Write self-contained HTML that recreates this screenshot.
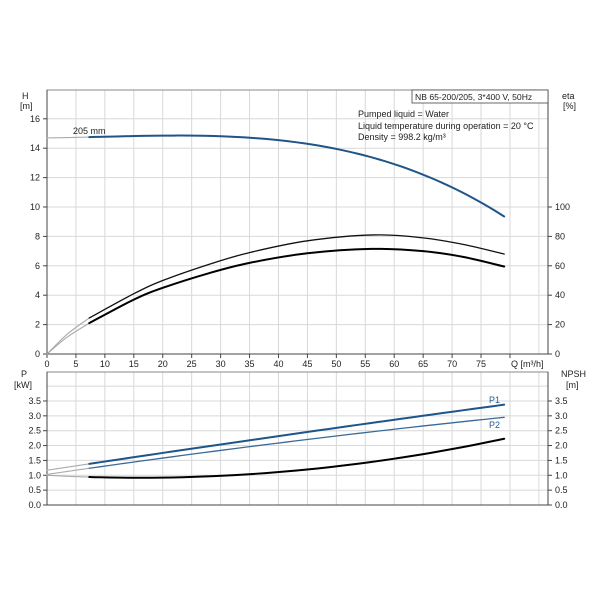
<!DOCTYPE html>
<html><head><meta charset="utf-8"><style>
html,body{margin:0;padding:0;background:#fff;}
svg{display:block;font-family:"Liberation Sans",sans-serif;}
</style></head><body>
<svg id="s" width="603" height="603" viewBox="0 0 603 603" xmlns="http://www.w3.org/2000/svg">
<rect width="603" height="603" fill="#fff"/>
<g id="grid" stroke="#d8d8d8" stroke-width="1"></g>
<g id="axes"></g>
<g id="curves" fill="none" stroke-linecap="round" stroke-linejoin="round"></g>
<g font-size="9" fill="#222">
<text x="22" y="99">H</text><text x="20" y="109">[m]</text>
<text x="562" y="99">eta</text><text x="563" y="109">[%]</text>
<text x="21" y="377">P</text><text x="14" y="388">[kW]</text>
<text x="561" y="377">NPSH</text><text x="566" y="388">[m]</text>
<text x="511" y="367">Q [m³/h]</text>
<text x="73" y="134">205 mm</text>
<text x="358" y="117">Pumped liquid = Water</text>
<text x="358" y="129">Liquid temperature during operation = 20 °C</text>
<text x="358" y="140">Density = 998.2 kg/m³</text>
<text x="489" y="403" fill="#2a5a8a">P1</text>
<text x="489" y="428" fill="#2a5a8a">P2</text>
</g>
<rect x="412" y="90" width="136" height="13" fill="#fff" stroke="#444" stroke-width="0.8"/>
<text x="415" y="100" font-size="8.6" fill="#222">NB 65-200/205, 3*400 V, 50Hz</text>
<g id="labels" font-size="9" fill="#222"></g>
</svg>
<script>
var NS="http://www.w3.org/2000/svg";
function el(p,t,a,txt){var e=document.createElementNS(NS,t);for(var k in a)e.setAttribute(k,a[k]);if(txt!==undefined)e.textContent=txt;document.getElementById(p).appendChild(e);return e;}
var X0=47,KX=5.787,XR=548;
function X(q){return X0+q*KX;}
var TY0=354,KT=14.7,TT=90;
function TY(h){return TY0-h*KT;}
var BY0=505,KB=29.72,BT=372;
function BY(p){return BY0-p*KB;}
for(var q=5;q<=85;q+=5){el("grid","line",{x1:X(q),y1:TT,x2:X(q),y2:TY0});el("grid","line",{x1:X(q),y1:BT,x2:X(q),y2:BY0});}
for(var h=2;h<=18;h+=2){if(TY(h)>TT)el("grid","line",{x1:X0,y1:TY(h),x2:XR,y2:TY(h)});}
for(var p=0.5;p<=4;p+=0.5){if(BY(p)>BT)el("grid","line",{x1:X0,y1:BY(p),x2:XR,y2:BY(p)});}
el("axes","rect",{x:X0,y:TT,width:XR-X0,height:TY0-TT,stroke:"#888","stroke-width":1,fill:"none"});
el("axes","rect",{x:X0,y:BT,width:XR-X0,height:BY0-BT,stroke:"#888","stroke-width":1,fill:"none"});
el("axes","line",{x1:X0,y1:TT,x2:X0,y2:TY0,stroke:"#444"});
el("axes","line",{x1:X0,y1:TY0,x2:XR,y2:TY0,stroke:"#444"});
el("axes","line",{x1:X0,y1:BT,x2:X0,y2:BY0,stroke:"#444"});
el("axes","line",{x1:X0,y1:BY0,x2:XR,y2:BY0,stroke:"#444"});
el("axes","line",{x1:XR,y1:TT,x2:XR,y2:TY0,stroke:"#444"});
el("axes","line",{x1:XR,y1:BT,x2:XR,y2:BY0,stroke:"#444"});
for(var q=0;q<=80;q+=5){el("axes","line",{x1:X(q),y1:TY0,x2:X(q),y2:TY0+4,stroke:"#444"});
 if(q<=75)el("labels","text",{x:X(q),y:367,"text-anchor":"middle"},""+q);}
for(var h=0;h<=16;h+=2){el("axes","line",{x1:X0-4,y1:TY(h),x2:X0,y2:TY(h),stroke:"#444"});el("labels","text",{x:X0-7,y:TY(h)+3,"text-anchor":"end"},""+h);}
for(var e=0;e<=100;e+=20){var y=TY(e/10);el("axes","line",{x1:XR,y1:y,x2:XR+4,y2:y,stroke:"#444"});el("labels","text",{x:XR+7,y:y+3},""+e);}
for(var i=0;i<=7;i++){var p=i*0.5,y=BY(p);el("axes","line",{x1:X0-4,y1:y,x2:X0,y2:y,stroke:"#444"});el("axes","line",{x1:XR,y1:y,x2:XR+4,y2:y,stroke:"#444"});
 el("labels","text",{x:X0-6,y:y+3,"text-anchor":"end"},p.toFixed(1));el("labels","text",{x:XR+7,y:y+3},p.toFixed(1));}
function path(pts,fx,fy){
 var P=pts.map(function(a){return [fx(a[0]),fy(a[1])];});
 var d="M"+P[0][0]+","+P[0][1];
 for(var i=0;i<P.length-1;i++){var p0=P[i-1]||P[i],p1=P[i],p2=P[i+1],p3=P[i+2]||p2;
  var c1=[p1[0]+(p2[0]-p0[0])/6,p1[1]+(p2[1]-p0[1])/6],c2=[p2[0]-(p3[0]-p1[0])/6,p2[1]-(p3[1]-p1[1])/6];
  d+=" C"+c1+" "+c2+" "+p2;}
 return d;}
function fn(f,a,b){var r=[];for(var q=a;q<=b+1e-9;q+=(b-a)/40)r.push([q,f(q)]);return r;}
function curve(thin,thick,fy,col,w){
 el("curves","path",{d:path(thin,X,fy),stroke:"#aaa","stroke-width":1.1});
 el("curves","path",{d:path(thick,X,fy),stroke:col,"stroke-width":w});}
function H(q){return 14.7+0.00502*q+0.000497*q*q-1.794e-5*q*q*q;}
curve(fn(H,0,7.3),fn(H,7.3,79),TY,"#1f5588",2);
curve([[0,0],[3.5,1.35],[7.3,2.45]],[[7.3,2.45],[15,4.1],[20,5.0],[28,6.1],[35,6.9],[45,7.7],[56.3,8.1],[65,7.9],[72,7.45],[79,6.8]],TY,"#111",1.3);
curve([[0,0],[3.5,1.15],[7.3,2.1]],[[7.3,2.1],[15,3.7],[20,4.5],[28,5.5],[35,6.2],[45,6.85],[56,7.15],[65,7.0],[72,6.6],[79,5.95]],TY,"#000",2);
function P1(q){return 1.17+0.0295*q-0.00002*q*q;}
function P2(q){return 1.03+0.0285*q-0.000053*q*q;}
function NP(q){return 1.0-0.0105*q+0.00033*q*q;}
curve(fn(P1,0,7.3),fn(P1,7.3,79),BY,"#1f5588",2);
curve(fn(P2,0,7.3),fn(P2,7.3,79),BY,"#3a6a98",1.3);
curve(fn(NP,0,7.3),fn(NP,7.3,79),BY,"#000",2);
</script>
</body></html>
